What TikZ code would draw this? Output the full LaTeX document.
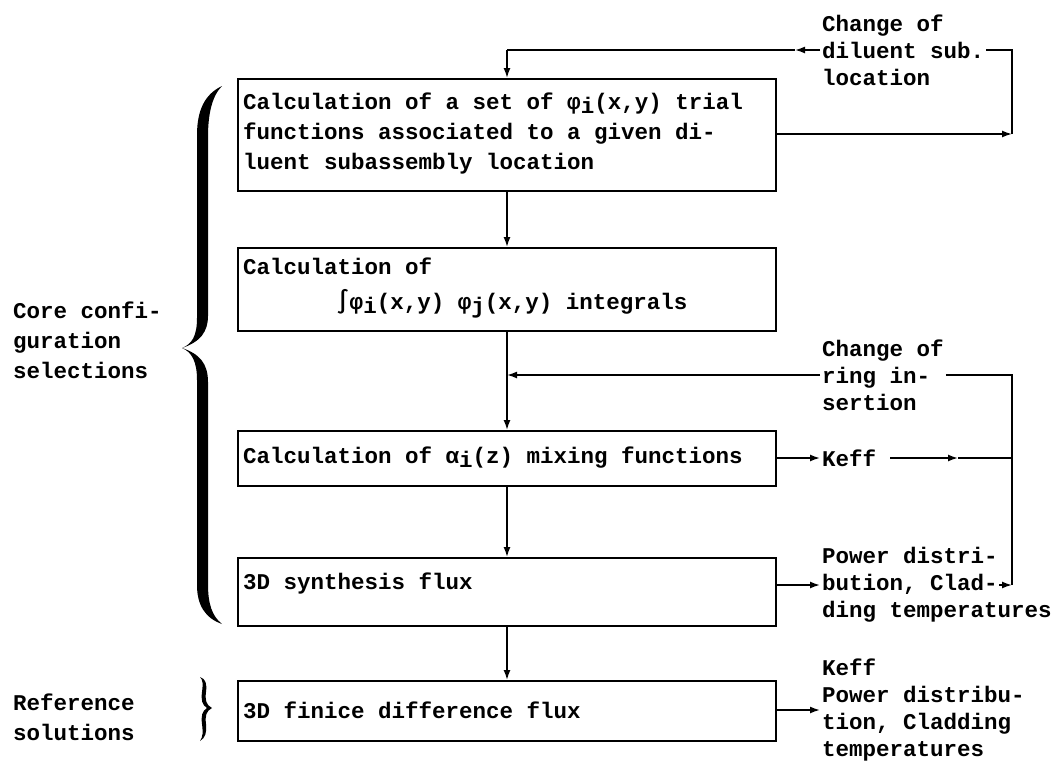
\documentclass[tikz,border=0pt]{standalone}
\usepackage{fontspec}
\setmonofont{Liberation Mono}
\newfontfamily\symf{DejaVu Sans Mono}
\usetikzlibrary{arrows.meta}
\newcommand{\sbi}[1]{\raisebox{-4pt}{#1}}
\begin{document}
\begin{tikzpicture}[x=1pt,y=-1pt,
  every node/.style={font=\ttfamily\bfseries\fontsize{22.5}{30}\selectfont},
  box/.style={draw, line width=2pt, anchor=north west, minimum width=538pt, inner sep=0pt},
  btext/.style={anchor=west, align=left, inner sep=0pt},
  rtext/.style={anchor=west, align=left, inner xsep=2pt, inner ysep=0pt,
    font=\ttfamily\bfseries\fontsize{22.5}{27}\selectfont},
  ltext/.style={anchor=west, align=left, inner sep=0pt},
  ln/.style={line width=1.6pt},
  arr/.style={line width=1.6pt, -{Latex[length=10pt,width=7pt]}}
]
\useasboundingbox (0,0) rectangle (1060,761);

% boxes
\node[box, minimum height=112pt] (b1) at (237,78) {};
\node[box, minimum height=83pt] (b2) at (237,247) {};
\node[box, minimum height=55pt] (b3) at (237,430) {};
\node[box, minimum height=68pt] (b4) at (237,557) {};
\node[box, minimum height=60pt] (b5) at (237,680) {};

% box texts
\node[btext] (b1t) at (243,134)
  {Calculation of a set of φ\sbi{i}(x,y) trial\\functions associated to a given di-\\luent subassembly location};
\node[btext] (b2t) at (243,288)
  {Calculation of\\[5pt]\hspace*{93pt}{\symf ∫}φ\sbi{i}(x,y) φ\sbi{j}(x,y) integrals};
\node[btext] (b3t) at (243,458) {Calculation of α\sbi{i}(z) mixing functions};
\node[btext] (b4t) at (243,584) {3D synthesis flux};
\node[btext] (b5t) at (243,710) {3D finice difference flux};

% right texts
\node[rtext] (t1) at (820,50) {Change of\\diluent sub.\\location};
\node[rtext] (t2) at (820,375) {Change of\\ring in-\\sertion};
\node[rtext] (t3) at (820,458) {Keff};
\node[rtext] (t4) at (820,585) {Power distri-\\bution, Clad-\\ding temperatures};
\node[rtext] (t5) at (820,710) {Keff\\Power distribu-\\tion, Cladding\\temperatures};

% left labels
\node[ltext] (l1) at (13,340) {Core confi-\\guration\\selections};
\node[ltext] (l2) at (13,717) {Reference\\solutions};

% coordinates
\coordinate (R0) at (1012,50);
\coordinate (R1) at (1012,134);
\coordinate (R2) at (1012,375);
\coordinate (R3) at (1012,458);
\coordinate (R4) at (1012,585);
\coordinate (A1) at (795,50);
\coordinate (J0) at (b1.north |- R0);
\coordinate (J2) at (b2.south |- R2);
\coordinate (K1) at (958,458);
\coordinate (K0) at (890,458);
\coordinate (CE) at (999,585);

% main chain
\draw[arr] (b1.south) -- (b2.north);
\draw[arr] (b2.south) -- (b3.north);
\draw[arr] (b3.south) -- (b4.north);
\draw[arr] (b4.south) -- (b5.north);

% diluent loop
\draw[arr] (b1.east |- R1) -- (R1);
\draw[ln] (R1) -- (R0) -- (t1.east);
\draw[arr] (t1.west) -- (A1);
\draw[ln] (A1) -- (J0);
\draw[arr] (J0) -- (b1.north);

% ring insertion loop
\draw[ln] (t2.east) -- (R2) -- (R4);
\draw[arr] (t2.west) -- (J2);
\draw[arr] (b3.east |- t3.west) -- (t3.west);
\draw[arr] (K0) -- (K1);
\draw[ln] (K1) -- (R3);
\draw[arr] (b4.east |- t4.west) -- (t4.west);
\draw[arr] (CE) -- (R4);
\draw[arr] (b5.east |- t5.west) -- (t5.west);

% big brace
\fill (222,86) .. controls (205,94) and (197,110) .. (197,135)
  -- (197,318) .. controls (197,336) and (192,344) .. (182,348)
  .. controls (192,352) and (197,362) .. (197,380)
  -- (197,585) .. controls (197,605) and (205,618) .. (222,624)
  .. controls (212,616) and (208,604) .. (208,584)
  -- (208,382) .. controls (208,364) and (200,354) .. (182,348)
  .. controls (200,342) and (208,332) .. (208,316)
  -- (208,137) .. controls (208,114) and (212,96) .. (222,86) -- cycle;

% small brace
\fill (200,677) .. controls (206,679) and (207,684) .. (206,692)
  .. controls (205,700) and (206,705) .. (212,708)
  .. controls (206,711) and (205,716) .. (206,724)
  .. controls (207,733) and (205,738) .. (200,741)
  .. controls (203,737) and (203,732) .. (202,724)
  .. controls (201,716) and (202,711) .. (207,708)
  .. controls (202,705) and (201,700) .. (202,692)
  .. controls (203,684) and (203,680) .. (200,677) -- cycle;
\end{tikzpicture}
\end{document}
